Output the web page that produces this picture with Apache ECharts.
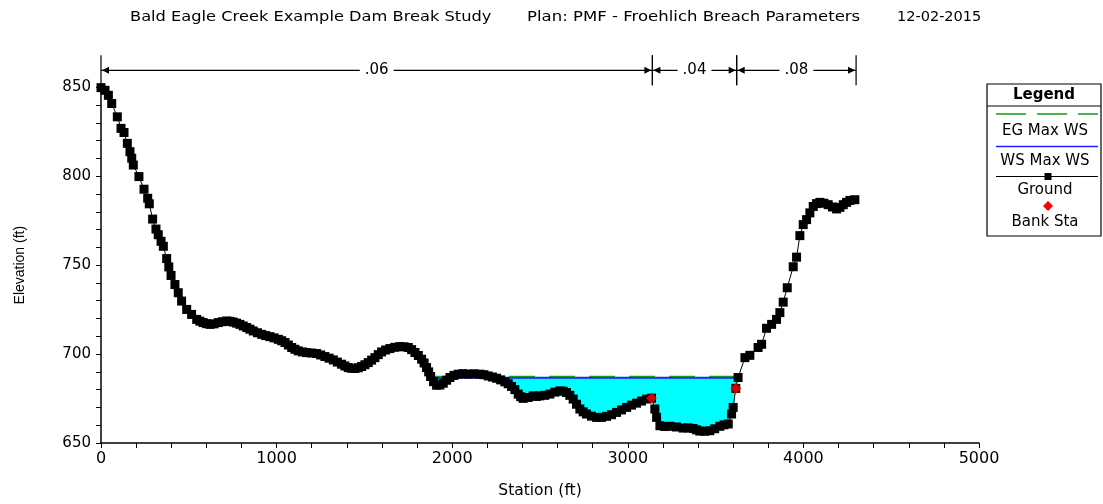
<!DOCTYPE html>
<html>
<head>
<meta charset="utf-8">
<script src="https://cdn.jsdelivr.net/npm/echarts@6/dist/echarts.min.js"></script>
<style>
  html, body { margin: 0; padding: 0; background: #fff; }
  #chart { width: 1103px; height: 504px; }
</style>
</head>
<body>
<div id="chart"></div>
<script>
// Cross section: ground profile (station ft, elevation ft)
const groundStation = [
  0, 23, 42, 61, 93, 114, 131, 150, 165, 175, 184, 216, 245, 266, 275, 294, 313, 326, 342, 355, 374, 386, 399,
  421, 440, 459, 488, 516, 545, 563, 582, 601, 621, 644, 668, 692, 716, 735, 753, 772, 791, 810, 830, 848, 867, 891,
  915, 938, 962, 986, 1010, 1029, 1048, 1067, 1086, 1104, 1123, 1147, 1171, 1199, 1228, 1251, 1275, 1299, 1323, 1346,
  1370, 1389, 1408, 1427, 1446, 1465, 1484, 1503, 1522, 1541, 1560, 1579, 1598, 1621, 1645, 1673, 1702, 1726, 1750,
  1769, 1788, 1807, 1826, 1840, 1854, 1866, 1877, 1894, 1911, 1930, 1949, 1968, 1987, 2010, 2034, 2062, 2091, 2124,
  2158, 2181, 2205, 2229, 2253, 2276, 2300, 2319, 2338, 2357, 2376, 2390, 2404, 2432, 2461, 2480, 2499, 2527, 2556,
  2584, 2613, 2632, 2651, 2670, 2689, 2708, 2727, 2746, 2765, 2793, 2822, 2850, 2879, 2907, 2936, 2964, 2993, 3021,
  3050, 3078, 3107, 3135, 3154, 3164, 3183, 3211, 3240, 3277, 3315, 3343, 3372, 3391, 3410, 3438, 3467, 3495, 3524,
  3548, 3572, 3591, 3600, 3615, 3628, 3667, 3695, 3742, 3762, 3790, 3819, 3847, 3866, 3885, 3908, 3942, 3961, 3980,
  3999, 4018, 4037, 4056, 4075, 4094, 4117, 4141, 4165, 4189, 4208, 4227, 4246, 4265, 4293
];
const groundElev = [
  849.8, 848.3, 845.5, 840.9, 833.4, 826.9, 824.6, 818.5, 813.8, 810.1, 806.3, 799.8, 792.7, 787.6, 784.5, 775.9, 770.3, 767.1, 763.4, 760.6, 753.7, 749.0, 744.2,
  739.1, 734.5, 729.8, 725.1, 722.3, 719.5, 718.5, 717.7, 717.1, 716.7, 717.0, 717.7, 718.2, 718.6, 718.4, 718.0, 717.4, 716.7, 715.8, 714.9, 714.0, 713.0, 712.0,
  711.1, 710.4, 709.8, 709.1, 708.3, 707.5, 706.5, 705.1, 703.7, 702.7, 701.8, 701.2, 700.8, 700.6, 700.3, 699.5, 698.6, 697.7, 696.7, 695.5,
  694.3, 693.3, 692.4, 692.0, 691.9, 692.3, 693.0, 694.0, 695.2, 696.6, 698.0, 699.7, 701.2, 702.3, 703.1, 703.8, 704.2, 704.1, 703.7,
  702.5, 700.9, 699.2, 697.1, 695.0, 692.4, 690.0, 687.4, 684.5, 682.5, 682.6, 683.6, 685.3, 686.8, 688.0, 688.7, 689.0, 688.7, 688.9,
  688.7, 688.4, 687.7, 687.1, 686.4, 685.5, 684.4, 683.3, 681.8, 680.0, 677.5, 676.0, 675.1, 675.6, 676.5, 676.2, 676.5, 676.8, 677.5,
  678.6, 679.3, 679.1, 678.4, 676.8, 674.7, 671.8, 669.1, 667.5, 666.3, 665.1, 664.4, 664.4, 665.0, 665.9, 667.2, 668.6, 670.0, 671.3,
  672.4, 673.6, 674.7, 675.2, 669.1, 664.4, 659.7, 659.3, 659.4, 659.0, 658.4, 658.5, 658.2, 657.4, 656.7, 656.6, 656.9, 658.0, 659.4,
  660.2, 660.7, 666.3, 670.0, 680.7, 686.8, 698.0, 699.3, 703.7, 705.5, 714.5, 716.7, 719.5, 723.3, 729.2, 737.3, 749.1, 754.5, 766.6,
  772.8, 775.6, 779.4, 783.0, 784.6, 785.3, 784.8, 784.0, 782.7, 781.6, 782.5, 784.0, 785.3, 786.4, 786.8
];

// Bank stations
const bankStation = [3135, 3615];
const bankElev = [675.2, 680.7];

// Max water surface and energy grade (ft) and the wetted reach
const wsElev = 686.7;
const egElev = 687.4;
const wetStart = 1868;
const wetEnd = 3630;

// Manning's n breaks across the section
const nBreaks = [0, 3140, 3620, 4300];
const nValues = ['.06', '.04', '.08'];

// Axis ticks
const xMin = 0, xMax = 5000, xStep = 1000;
const yMin = 650, yMax = 850, yStep = 50;

const FONT = 'DejaVu Sans';
const ground = groundStation.map((s, i) => [s, groundElev[i]]);
const banks = bankStation.map((s, i) => [s, bankElev[i]]);

const chart = echarts.init(document.getElementById('chart'), null, { renderer: 'canvas' });

const titleStyle = { fontFamily: FONT, fontSize: 14.5, fill: '#000', align: 'left', verticalAlign: 'top' };

const option = {
  animation: false,
  backgroundColor: '#fff',
  grid: { left: 101, right: 124, top: 87.3, bottom: 60, containLabel: false },
  xAxis: {
    type: 'value', min: xMin, max: xMax, interval: xStep,
    name: 'Station (ft)', nameLocation: 'middle', nameGap: 40,
    nameTextStyle: { fontFamily: FONT, fontSize: 15.5, color: '#000' },
    axisLine: { show: true, onZero: false, lineStyle: { color: '#000', width: 1.5 } },
    axisTick: { show: true, length: 5, lineStyle: { color: '#000' } },
    minorTick: { show: true, splitNumber: 5, length: 5, lineStyle: { color: '#000' } },
    splitLine: { show: false },
    axisLabel: { fontFamily: FONT, fontSize: 16, color: '#000', margin: 8, formatter: v => String(v) }
  },
  yAxis: {
    type: 'value', min: yMin, max: yMax, interval: yStep,
    name: 'Elevation (ft)', nameLocation: 'middle', nameGap: 74,
    nameTextStyle: { fontFamily: 'Liberation Sans', fontSize: 14, color: '#000' },
    axisLine: { show: true, onZero: false, lineStyle: { color: '#000', width: 1.5 } },
    axisTick: { show: true, length: 5, lineStyle: { color: '#000' } },
    minorTick: { show: true, splitNumber: 5, length: 5, lineStyle: { color: '#000' } },
    splitLine: { show: false },
    axisLabel: { fontFamily: FONT, fontSize: 15, color: '#000', margin: 10 }
  },
  series: [
    {
      // wetted area below the water surface
      name: 'Wet area', type: 'custom', z: 1, silent: true,
      data: [[wetStart, wsElev]],
      renderItem: function (params, api) {
        const pts = [api.coord([wetStart, wsElev])];
        for (let i = 0; i < groundStation.length; i++) {
          const s = groundStation[i];
          if (s > wetStart && s < wetEnd) pts.push(api.coord([s, Math.min(groundElev[i], wsElev)]));
        }
        pts.push(api.coord([wetEnd, wsElev]));
        return { type: 'polygon', shape: { points: pts }, style: { fill: '#00ffff' } };
      }
    },
    {
      name: 'WS Max WS', type: 'line', z: 2, symbol: 'none',
      data: [[wetStart, wsElev], [wetEnd, wsElev]],
      lineStyle: { color: '#1f1fff', width: 2 }
    },
    {
      name: 'EG Max WS', type: 'line', z: 3, symbol: 'none',
      data: [[wetStart, egElev], [wetEnd, egElev]],
      lineStyle: { color: '#1a9a1a', width: 1.5, type: [26, 14] }
    },
    {
      name: 'Ground', type: 'line', z: 4,
      data: ground, showAllSymbol: true,
      symbol: 'rect', symbolSize: 9,
      itemStyle: { color: '#000' },
      lineStyle: { color: '#000', width: 1 }
    },
    {
      name: 'Bank Sta', type: 'scatter', z: 5,
      data: banks, symbol: 'diamond', symbolSize: [11, 11],
      itemStyle: { color: '#ff0000' }
    },
    {
      // Manning's n regions drawn above the plot
      name: 'n values', type: 'custom', z: 6, silent: true, clip: false,
      data: nValues.map((v, i) => [nBreaks[i], nBreaks[i + 1], yMax]),
      encode: { x: [0, 1], y: 2 },
      renderItem: function (params, api) {
        const a = api.coord([api.value(0), yMax]);
        const b = api.coord([api.value(1), yMax]);
        const yTop = a[1] - 32, yLine = a[1] - 17, yBot = a[1] - 2;
        const stroke = { stroke: '#000', lineWidth: 1.2 };
        const label = nValues[params.dataIndex];
        return {
          type: 'group',
          children: [
            { type: 'line', shape: { x1: a[0], y1: yTop, x2: a[0], y2: yBot }, style: stroke },
            { type: 'line', shape: { x1: b[0], y1: yTop, x2: b[0], y2: yBot }, style: stroke },
            { type: 'line', shape: { x1: a[0], y1: yLine, x2: b[0], y2: yLine }, style: stroke },
            { type: 'polygon', shape: { points: [[a[0] + 1, yLine], [a[0] + 8, yLine - 3.5], [a[0] + 8, yLine + 3.5]] }, style: { fill: '#000' } },
            { type: 'polygon', shape: { points: [[b[0] - 1, yLine], [b[0] - 8, yLine - 3.5], [b[0] - 8, yLine + 3.5]] }, style: { fill: '#000' } },
            {
              type: 'text', z2: 10,
              style: {
                x: (a[0] + b[0]) / 2, y: yLine, text: label, align: 'center', verticalAlign: 'middle',
                fontFamily: FONT, fontSize: 15, fill: '#000', backgroundColor: '#fff', padding: [0, 5]
              }
            }
          ]
        };
      }
    }
  ],
  graphic: [
    // title line
    { type: 'text', x: 130, y: 10, scaleX: 1.12, style: Object.assign({ text: 'Bald Eagle Creek Example Dam Break Study' }, titleStyle) },
    { type: 'text', x: 527, y: 10, scaleX: 1.14, style: Object.assign({ text: 'Plan: PMF - Froehlich Breach Parameters' }, titleStyle) },
    { type: 'text', x: 897, y: 10, scaleX: 1.0, style: Object.assign({ text: '12-02-2015' }, titleStyle) },
    // legend box
    {
      type: 'group', x: 987, y: 84,
      children: [
        { type: 'rect', shape: { x: 0, y: 0, width: 114, height: 152 }, style: { fill: '#fff', stroke: '#000', lineWidth: 1.2 } },
        { type: 'text', style: { x: 57, y: 11, text: 'Legend', align: 'center', verticalAlign: 'middle', fontFamily: FONT, fontWeight: 'bold', fontSize: 15, fill: '#000' } },
        { type: 'line', shape: { x1: 0, y1: 22, x2: 114, y2: 22 }, style: { stroke: '#000', lineWidth: 1.2 } },
        { type: 'line', shape: { x1: 9, y1: 30, x2: 111, y2: 30 }, style: { stroke: '#1a9a1a', lineWidth: 1.5, lineDash: [30, 11] } },
        { type: 'text', style: { x: 58, y: 47, text: 'EG Max WS', align: 'center', verticalAlign: 'middle', fontFamily: FONT, fontSize: 15, fill: '#000' } },
        { type: 'line', shape: { x1: 9, y1: 62.5, x2: 111, y2: 62.5 }, style: { stroke: '#1f1fff', lineWidth: 1.5 } },
        { type: 'text', style: { x: 58, y: 77, text: 'WS Max WS', align: 'center', verticalAlign: 'middle', fontFamily: FONT, fontSize: 15, fill: '#000' } },
        { type: 'line', shape: { x1: 9, y1: 92.5, x2: 111, y2: 92.5 }, style: { stroke: '#000', lineWidth: 1.2 } },
        { type: 'rect', shape: { x: 57.5, y: 89, width: 7, height: 7 }, style: { fill: '#000' } },
        { type: 'text', style: { x: 58, y: 106, text: 'Ground', align: 'center', verticalAlign: 'middle', fontFamily: FONT, fontSize: 15, fill: '#000' } },
        { type: 'polygon', shape: { points: [[61, 117], [66, 122], [61, 127], [56, 122]] }, style: { fill: '#ff0000' } },
        { type: 'text', style: { x: 58, y: 138, text: 'Bank Sta', align: 'center', verticalAlign: 'middle', fontFamily: FONT, fontSize: 15, fill: '#000' } }
      ]
    }
  ]
};

chart.setOption(option);
</script>
</body>
</html>
